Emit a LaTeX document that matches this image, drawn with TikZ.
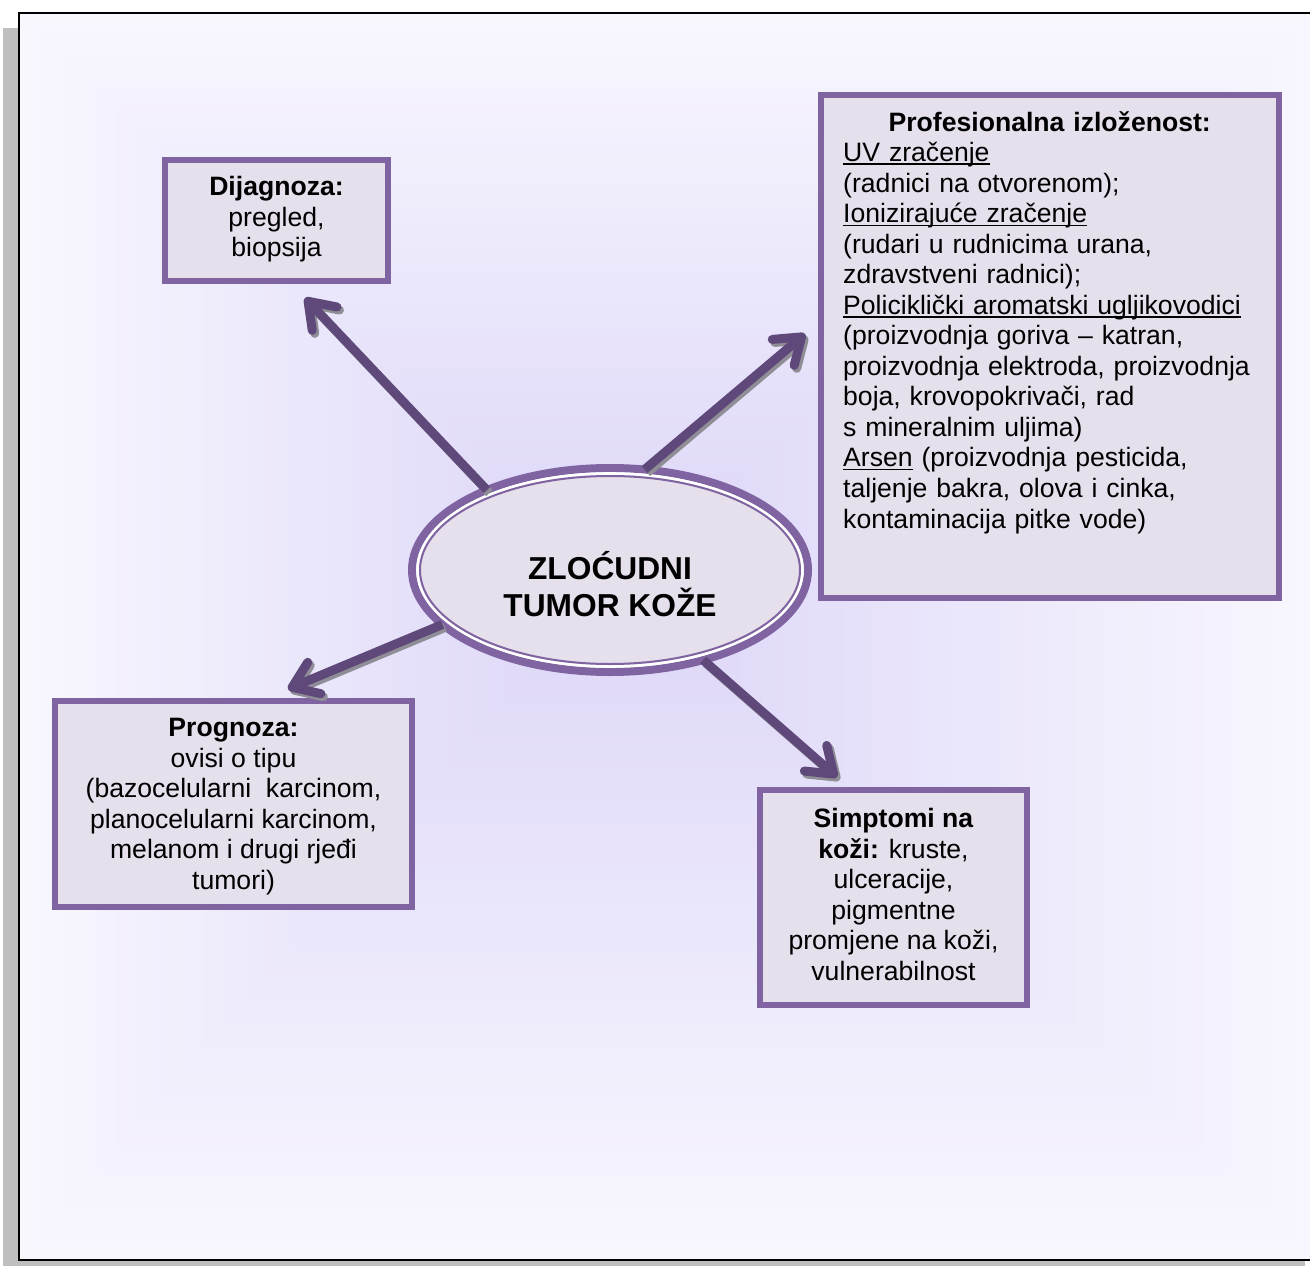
\documentclass[tikz,border=0pt]{standalone}
\usepackage{fontspec}
\setmainfont{Liberation Sans}
\usetikzlibrary{arrows.meta,calc,shapes.geometric}

\definecolor{boxline}{HTML}{8064A2}
\definecolor{boxfill}{HTML}{E5E0EC}
\definecolor{arrowc}{HTML}{5F497A}
\definecolor{shadowc}{HTML}{8F8D96}
\definecolor{frameback}{HTML}{F8F7FE}
\definecolor{glowc}{HTML}{DCD5F8}
\definecolor{pageshadow}{HTML}{BFBFBF}

% underline that sits just under the baseline and crosses descenders
\newsavebox\ulbox
\newcommand\uln[1]{\leavevmode\sbox\ulbox{#1}\rlap{\rule[-3.4pt]{\wd\ulbox}{1.5pt}}\usebox\ulbox}

\begin{document}
\begin{tikzpicture}[x=1pt,y=-1pt,
  infobox/.style={draw=boxline, fill=boxfill, line width=6pt, rectangle,
                  inner sep=0pt, outer sep=0pt},
  bodytext/.style={font=\fontsize{26.6}{30.54}\selectfont, inner sep=0pt, align=center},
  spoke/.style={line width=9pt, draw=arrowc,
                -{Straight Barb[length=24pt,width=34pt,round]}},
  spokeshadow/.style={spoke, draw=shadowc, transform canvas={shift={(2.5,3)}}}
]
\useasboundingbox (0,0) rectangle (1310,1266);

% page shadow and frame
\fill[pageshadow] (3,28) rectangle (30,1266);
\fill[pageshadow] (3,1258) rectangle (1305,1266);
\fill[frameback] (19,13) rectangle (1320,1260);

% soft rectangular glow behind the centre
\coordinate (fa) at (19,13);
\coordinate (fb) at (1320,1260);
\coordinate (gc) at (612,575);
\foreach \i in {1,...,60}{
  \pgfmathsetmacro\t{\i/61}
  \pgfmathsetmacro\p{100*\t}
  \fill[glowc!\p!frameback] ($(fa)!\t!(gc)$) rectangle ($(fb)!\t!(gc)$);
}
\draw[line width=1.6pt, black] (19,13) rectangle (1320,1260);

% central ellipse with thick-thin double rim
\node[ellipse, draw=boxline, fill=boxfill, line width=8pt, minimum width=396pt,
      minimum height=204pt, inner sep=0pt, outer sep=0pt] (core) at (610,570) {};
\draw[white, line width=2.6pt] (core.center) ellipse [x radius=192.5, y radius=96.5];
\draw[boxline, line width=2pt] (core.center) ellipse [x radius=190, y radius=94];
\node[font=\bfseries\fontsize{31.7}{36.4}\selectfont, align=center, inner sep=0pt]
  (coretext) at (610,584) {ZLOĆUDNI\\TUMOR KOŽE};

% surrounding boxes
\node[infobox, minimum width=223pt, minimum height=121pt] (dia) at (276.5,220.5) {};
\node[bodytext] (diatext) at ($(dia.center)+(0,-1)$)
  {\textbf{Dijagnoza:}\\pregled,\\biopsija};

\node[infobox, minimum width=458pt, minimum height=503pt] (prof) at (1050,346.5) {};
\node[font=\fontsize{26.6}{30.54}\selectfont, inner sep=0pt, text width=413pt,
      align=left, anchor=base west] (proftext) at (843,131)
  {\makebox[\linewidth]{\bfseries Profesionalna izloženost:}\\
   \uln{UV zračenje}\\
   (radnici na otvorenom);\\
   \uln{Ionizirajuće zračenje}\\
   (rudari u rudnicima urana,\\
   zdravstveni radnici);\\
   \uln{Policiklički aromatski ugljikovodici}\\
   (proizvodnja goriva – katran,\\
   proizvodnja elektroda, proizvodnja\\
   boja, krovopokrivači, rad\\
   s mineralnim uljima)\\
   \uln{Arsen} (proizvodnja pesticida,\\
   taljenje bakra, olova i cinka,\\
   kontaminacija pitke vode)};

\node[infobox, minimum width=357pt, minimum height=206pt] (prog) at (233.5,804) {};
\node[bodytext] (progtext) at ($(prog.center)+(0,2.5)$)
  {\textbf{Prognoza:}\\ovisi o tipu\\(bazocelularni~ karcinom,\\planocelularni karcinom,\\melanom i drugi rjeđi\\tumori)};

\node[infobox, minimum width=267pt, minimum height=215pt] (sym) at (893.5,897.5) {};
\node[bodytext] (symtext) at ($(sym.center)+(0,-3)$)
  {\textbf{Simptomi na}\\\textbf{koži:} kruste,\\ulceracije,\\pigmentne\\promjene na koži,\\vulnerabilnost};

% arrow tips
\coordinate (tipdia) at (305,298);
\coordinate (tipprof) at (805,334);
\coordinate (tipprog) at (288,689);
\coordinate (tipsym) at (837,777);

% spokes from the centre, each with a drop shadow
\foreach \a/\t in {147/tipdia, 71/tipprof, 198.5/tipprog, 316/tipsym}{
  \draw[spokeshadow] (core.\a) -- (\t);
  \draw[spoke] (core.\a) -- (\t);
}
\end{tikzpicture}
\end{document}
